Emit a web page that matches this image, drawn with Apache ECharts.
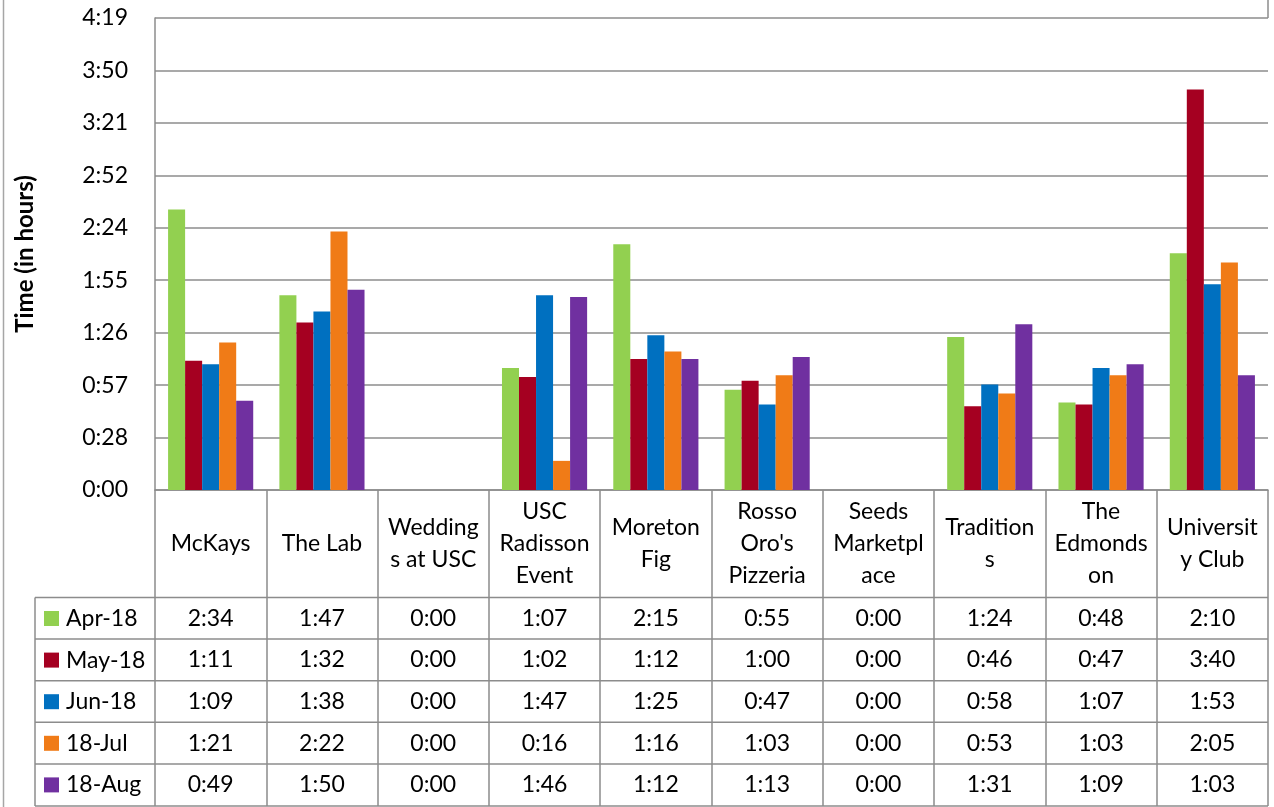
<!DOCTYPE html>
<html><head><meta charset="utf-8">
<script src="https://cdn.jsdelivr.net/npm/echarts@6/dist/echarts.min.js"></script>
<style>html,body{margin:0;padding:0;background:#fff}#c{width:1274px;height:807px}</style>
</head><body><div id="c"></div>
<script>
// ---- data ----
const categories = ['McKays', 'The Lab', 'Weddings at USC', 'USC Radisson Event', 'Moreton Fig', "Rosso Oro's Pizzeria", 'Seeds Marketplace', 'Traditions', 'The Edmondson', 'University Club'];
const categoryLabels = ['McKays', 'The Lab', 'Wedding\ns at USC', 'USC\nRadisson\nEvent', 'Moreton\nFig', "Rosso\nOro's\nPizzeria", 'Seeds\nMarketpl\nace', 'Tradition\ns', 'The\nEdmonds\non', 'Universit\ny Club'];
const seriesNames = ['Apr-18', 'May-18', 'Jun-18', '18-Jul', '18-Aug'];
const apr18 = ['2:34', '1:47', '0:00', '1:07', '2:15', '0:55', '0:00', '1:24', '0:48', '2:10'];
const may18 = ['1:11', '1:32', '0:00', '1:02', '1:12', '1:00', '0:00', '0:46', '0:47', '3:40'];
const jun18 = ['1:09', '1:38', '0:00', '1:47', '1:25', '0:47', '0:00', '0:58', '1:07', '1:53'];
const jul18 = ['1:21', '2:22', '0:00', '0:16', '1:16', '1:03', '0:00', '0:53', '1:03', '2:05'];
const aug18 = ['0:49', '1:50', '0:00', '1:46', '1:12', '1:13', '0:00', '1:31', '1:09', '1:03'];
const yTickLabels = ['0:00', '0:28', '0:57', '1:26', '1:55', '2:24', '2:52', '3:21', '3:50', '4:19'];
const yAxisTitle = 'Time (in hours)';

// ---- styling / layout ----
const colors = ['#92D050', '#A50021', '#0070C0', '#F07B17', '#7030A0'];
const FONT = 'Lato';
const FS = 23;
const GRAY = '#8c8c8c';
const TICK_STEP = 28.8; // minutes (0.02 day)
const PLOT_LEFT = 155, PLOT_RIGHT = 1268, PLOT_TOP = 18, PLOT_BOTTOM = 490;
const TABLE_LEFT = 35, ROW_TOP = 597.5, ROW_H = 41.6, TABLE_BOTTOM = 806;

const rows = [apr18, may18, jun18, jul18, aug18];
const toMin = s => { const p = s.split(':'); return (+p[0]) * 60 + (+p[1]); };

const barSeries = rows.map((r, i) => ({
  name: seriesNames[i],
  type: 'bar',
  data: r.map(toMin),
  itemStyle: { color: colors[i] },
  barGap: '0%',
  barCategoryGap: '23.5%',
  silent: true
}));

const tableData = [];
rows.forEach((r, ri) => r.forEach((v, ci) => tableData.push([ci, ri, v])));

const tableSeries = {
  type: 'custom',
  name: 'table',
  silent: true,
  clip: false,
  data: tableData,
  encode: { x: 0, y: 1 },
  renderItem: function (params, api) {
    const ci = api.value(0), ri = api.value(1);
    const x = api.coord([ci, 0])[0];
    return {
      type: 'text',
      style: {
        text: rows[ri][ci], x: x, y: ROW_TOP + ROW_H * (ri + 0.5),
        align: 'center', verticalAlign: 'middle',
        font: FS + 'px ' + FONT, fill: '#000'
      }
    };
  }
};

const graphics = [];
for (let k = 0; k <= 5; k++) {
  const y = k < 5 ? ROW_TOP + ROW_H * k : TABLE_BOTTOM;
  graphics.push({ type: 'line', silent: true, shape: { x1: TABLE_LEFT, y1: y, x2: PLOT_RIGHT, y2: y }, style: { stroke: GRAY, lineWidth: 1.5 } });
}
graphics.push({ type: 'line', silent: true, shape: { x1: TABLE_LEFT, y1: ROW_TOP, x2: TABLE_LEFT, y2: TABLE_BOTTOM }, style: { stroke: GRAY, lineWidth: 1.5 } });
graphics.push({ type: 'line', silent: true, shape: { x1: 3.5, y1: 0, x2: 3.5, y2: 807 }, style: { stroke: '#a6a6a6', lineWidth: 1.5 } });
graphics.push({ type: 'line', silent: true, shape: { x1: PLOT_RIGHT, y1: 0, x2: PLOT_RIGHT, y2: PLOT_TOP }, style: { stroke: GRAY, lineWidth: 1.5 } });

const chart = echarts.init(document.getElementById('c'), null, { renderer: 'canvas' });
chart.setOption({
  animation: false,
  backgroundColor: '#fff',
  textStyle: { fontFamily: FONT },
  grid: { left: PLOT_LEFT, right: 1274 - PLOT_RIGHT, top: PLOT_TOP, bottom: 807 - PLOT_BOTTOM },
  legend: {
    data: seriesNames,
    orient: 'vertical',
    left: 44, top: 607,
    padding: 0,
    itemWidth: 15, itemHeight: 15,
    itemGap: ROW_H - 23,
    icon: 'rect',
    selectedMode: false,
    textStyle: { fontSize: FS, fontFamily: FONT, color: '#000', lineHeight: 23, padding: [0, 0, 0, 2] }
  },
  xAxis: {
    type: 'category',
    data: categoryLabels,
    axisLine: { show: true, lineStyle: { color: GRAY, width: 1.5 } },
    axisTick: { show: true, alignWithLabel: false, interval: 0, length: TABLE_BOTTOM - PLOT_BOTTOM, lineStyle: { color: GRAY, width: 1.5 } },
    axisLabel: { interval: 0, margin: 54, verticalAlign: 'middle', lineHeight: 32, fontSize: FS, fontFamily: FONT, color: '#000' },
    splitLine: { show: false }
  },
  yAxis: {
    type: 'value',
    min: 0, max: TICK_STEP * 9, interval: TICK_STEP,
    name: yAxisTitle,
    nameLocation: 'middle',
    nameGap: 118,
    nameTextStyle: { fontSize: 24, fontWeight: 'bold', fontFamily: FONT, color: '#000' },
    axisLine: { show: true, lineStyle: { color: GRAY, width: 1.5 } },
    axisTick: { show: false },
    axisLabel: { margin: 27, fontSize: FS, fontFamily: FONT, color: '#000',
      formatter: v => yTickLabels[Math.round(v / TICK_STEP)] },
    splitLine: { show: true, lineStyle: { color: GRAY, width: 1.5 } }
  },
  graphic: graphics,
  series: barSeries.concat([tableSeries])
});
</script></body></html>
